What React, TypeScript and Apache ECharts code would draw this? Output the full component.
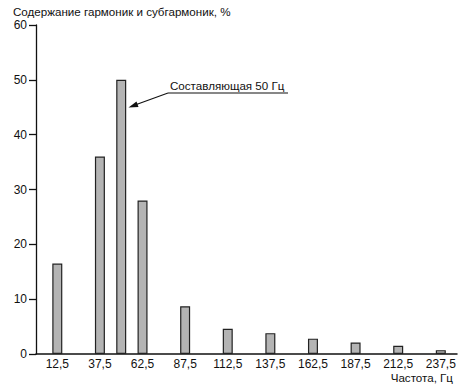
import React, { useEffect, useRef } from "react";
import * as echarts from "echarts";

const frequencies = [12.5, 37.5, 50, 62.5, 87.5, 112.5, 137.5, 162.5, 187.5, 212.5, 237.5];
const content = [16.5, 36, 50, 28, 8.7, 4.6, 3.8, 2.8, 2.1, 1.5, 0.7];
const xTickLabels = [12.5, 37.5, 62.5, 87.5, 112.5, 137.5, 162.5, 187.5, 212.5, 237.5];
const yTicks = [0, 10, 20, 30, 40, 50, 60];
const yTitle = "Содержание гармоник и субгармоник, %";
const xTitle = "Частота, Гц";
const annotation = "Составляющая 50 Гц";

const FONT = "'Liberation Sans', Arial, sans-serif";
const INK = "#111";

export default function App() {
  const ref = useRef<HTMLDivElement>(null);
  useEffect(() => {
    document.body.style.margin = "0";
    if (!ref.current) return;
    const chart = echarts.init(ref.current, null, { renderer: "svg" });
    chart.setOption({
      animation: false,
      backgroundColor: "#fff",
      textStyle: { fontFamily: FONT },
      grid: { left: 36, right: 10, top: 25, bottom: 37, containLabel: false, outerBoundsMode: "none" },
      xAxis: {
        type: "value",
        min: 0,
        max: 247,
        axisLine: { show: true, onZero: false, lineStyle: { color: INK, width: 1.5 } },
        axisTick: { show: false },
        splitLine: { show: false },
        axisLabel: {
          customValues: xTickLabels,
          margin: 4,
          color: INK,
          fontSize: 12,
          fontFamily: FONT,
          formatter: (v: number) => String(v).replace(".", ","),
        },
      },
      yAxis: {
        type: "value",
        min: yTicks[0],
        max: yTicks[yTicks.length - 1],
        interval: 10,
        axisLine: { show: true, lineStyle: { color: INK, width: 1.3 } },
        axisTick: { show: true, inside: false, length: 7, lineStyle: { color: INK, width: 1.3 } },
        splitLine: { show: false },
        axisLabel: { margin: 9, color: INK, fontSize: 12, fontFamily: FONT },
      },
      series: [
        {
          type: "bar",
          data: frequencies.map((f, i) => [f, content[i]]),
          barWidth: 10,
          itemStyle: { color: "#b4b4b4", borderColor: "#222", borderWidth: 1.2 },
        },
      ],
      graphic: [
        {
          type: "text",
          left: 13,
          top: 5,
          style: { text: yTitle, fontSize: 11.6, fontFamily: FONT, fill: INK },
        },
        {
          type: "text",
          right: 14,
          top: 371,
          style: { text: xTitle, fontSize: 11.6, fontFamily: FONT, fill: INK },
        },
        {
          type: "text",
          left: 170,
          top: 79,
          style: { text: annotation, fontSize: 11.6, fontFamily: FONT, fill: INK },
        },
        {
          type: "line",
          shape: { x1: 168, y1: 93, x2: 288, y2: 93 },
          style: { stroke: INK, lineWidth: 1.2 },
        },
        {
          type: "line",
          shape: { x1: 168, y1: 93, x2: 135, y2: 105 },
          style: { stroke: INK, lineWidth: 1.2 },
        },
        {
          type: "polygon",
          shape: { points: [[128.5, 107.5], [136.5, 101.5], [138.5, 107]] },
          style: { fill: INK },
        },
      ],
    });
    return () => chart.dispose();
  }, []);
  return <div ref={ref} style={{ width: 467, height: 391 }} />;
}
